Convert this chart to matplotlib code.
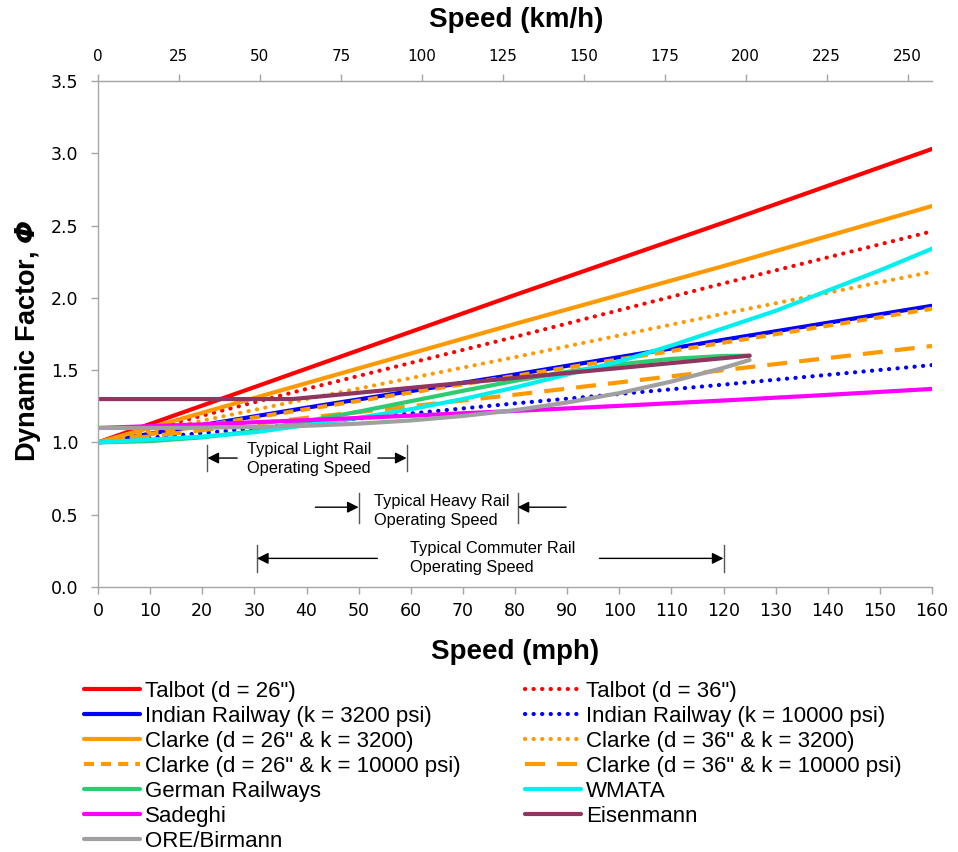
import matplotlib
matplotlib.use("Agg")
import matplotlib.pyplot as plt

# ---------------- data ----------------
lin_speed = [0, 40, 80, 120, 160]                       # mph
talbot_26 = [1.00, 1.51, 2.02, 2.52, 3.03]
talbot_36 = [1.00, 1.37, 1.73, 2.10, 2.46]
indian_3200 = [1.00, 1.24, 1.47, 1.71, 1.945]
indian_10000 = [1.00, 1.13, 1.27, 1.40, 1.535]
clarke_26_3200 = [1.00, 1.41, 1.82, 2.22, 2.635]
clarke_36_3200 = [1.00, 1.30, 1.59, 1.89, 2.18]
clarke_26_10000 = [1.00, 1.23, 1.46, 1.69, 1.925]
clarke_36_10000 = [1.00, 1.17, 1.33, 1.50, 1.667]

wmata_speed = [0, 10, 20, 30, 40, 50, 60, 70, 80, 90, 100, 110, 120, 130, 140, 150, 160]
wmata = [1.00, 1.02, 1.04, 1.07, 1.12, 1.17, 1.23, 1.30, 1.38, 1.47, 1.56, 1.67, 1.79, 1.91, 2.05, 2.19, 2.34]

sadeghi_speed = [0, 20, 40, 60, 80, 100, 120, 140, 160]
sadeghi = [1.10, 1.125, 1.154, 1.185, 1.218, 1.253, 1.290, 1.329, 1.37]

short_speed = [0, 10, 20, 30, 40, 50, 60, 70, 80, 90, 100, 110, 120, 125]
german = [1.00, 1.009, 1.035, 1.078, 1.147, 1.213, 1.285, 1.357, 1.426, 1.488, 1.540, 1.578, 1.598, 1.60]
ore_birmann = [1.10, 1.100, 1.102, 1.107, 1.115, 1.130, 1.152, 1.183, 1.223, 1.276, 1.341, 1.421, 1.516, 1.57]

eisenmann_speed = [0, 37.3, 125]
eisenmann = [1.30, 1.30, 1.60]

light_rail_range = [21, 59.2]
heavy_rail_range = [50, 80.5]
commuter_rail_range = [30.5, 120]

x_ticks_mph = list(range(0, 161, 10))
x_ticks_kmh = list(range(0, 251, 25))
y_ticks = [0.0, 0.5, 1.0, 1.5, 2.0, 2.5, 3.0, 3.5]

# ---------------- figure ----------------
W, H = 958, 852
fig = plt.figure(figsize=(W / 100, H / 100), dpi=100)
L, R, T, B = 98, 932, 81, 587
ax = fig.add_axes([L / W, 1 - B / H, (R - L) / W, (B - T) / H])

RED = '#FF0000'
BLUE = '#0000FF'
ORANGE = '#FF9900'
GREEN = '#2ECC71'
CYAN = '#00F0F0'
MAGENTA = '#FF00FF'
PURPLE = '#8E3560'
GRAY = '#A0A0A0'

LW = 3.0
dot = (0, (0.05, 2.0))
dash_short = (0, (2.4, 1.7))
dash_long = (0, (4.8, 2.9))

series = [
    (lin_speed, talbot_26, RED, '-', 'Talbot (d = 26")'),
    (lin_speed, talbot_36, RED, dot, 'Talbot (d = 36")'),
    (lin_speed, indian_3200, BLUE, '-', 'Indian Railway (k = 3200 psi)'),
    (lin_speed, indian_10000, BLUE, dot, 'Indian Railway (k = 10000 psi)'),
    (lin_speed, clarke_26_3200, ORANGE, '-', 'Clarke (d = 26" & k = 3200)'),
    (lin_speed, clarke_36_3200, ORANGE, dot, 'Clarke (d = 36" & k = 3200)'),
    (lin_speed, clarke_26_10000, ORANGE, dash_short, 'Clarke (d = 26" & k = 10000 psi)'),
    (lin_speed, clarke_36_10000, ORANGE, dash_long, 'Clarke (d = 36" & k = 10000 psi)'),
    (short_speed, german, GREEN, '-', 'German Railways'),
    (wmata_speed, wmata, CYAN, '-', 'WMATA'),
    (sadeghi_speed, sadeghi, MAGENTA, '-', 'Sadeghi'),
    (eisenmann_speed, eisenmann, PURPLE, '-', 'Eisenmann'),
    (short_speed, ore_birmann, GRAY, '-', 'ORE/Birmann'),
]

handles = {}
for xs, ys, c, ls, lab in series:
    cap = 'round' if ls is dot else 'butt'
    ln, = ax.plot(xs, ys, color=c, lw=LW, linestyle=ls, label=lab,
                  dash_capstyle=cap, solid_capstyle='round')
    handles[lab] = ln

ax.set_xlim(0, 160)
ax.set_ylim(0, 3.5)
ax.set_xticks(x_ticks_mph)
ax.set_yticks(y_ticks)
ax.set_yticklabels([f"{v:.1f}" for v in y_ticks])

spine_c = '#A6A6A6'
for s in ['left', 'bottom', 'top']:
    ax.spines[s].set_color(spine_c)
    ax.spines[s].set_linewidth(1.0)
ax.spines['right'].set_visible(False)

ax.tick_params(axis='x', direction='out', length=5, width=1, color=spine_c,
               labelsize=12.5, pad=6, top=False)
ax.tick_params(axis='y', direction='out', length=5, width=1, color=spine_c,
               labelsize=12.5, pad=9, right=False)
for t in ax.get_xticklabels() + ax.get_yticklabels():
    t.set_fontfamily('DejaVu Sans')

secax = ax.secondary_xaxis('top', functions=(lambda v: v * 1.609344, lambda v: v / 1.609344))
secax.set_xticks(x_ticks_kmh)
secax.spines['top'].set_color(spine_c)
secax.tick_params(axis='x', direction='out', length=5, width=1, color=spine_c,
                  labelsize=11, pad=7)

label_font = dict(fontfamily='Liberation Sans', fontweight='bold')
ax.set_xlabel('Speed (mph)', fontsize=20, va='center', **label_font)
ax.xaxis.set_label_coords(0.5, (B - 652) / (B - T))
fig.text(516 / W, 1 - 20 / H, 'Speed (km/h)', fontsize=20, ha='center', va='center', **label_font)
ax.set_ylabel(r'Dynamic Factor, $\mathbfit{\Phi}$', fontsize=19.5, va='center', **label_font)
ax.yaxis.set_label_coords((28 - L) / (R - L), 0.486)

# ---------------- operating speed annotations ----------------
ann_font = dict(fontfamily='Liberation Sans', fontsize=11.8, linespacing=1.37)
bar_kw = dict(color='#555555', lw=1.0)
arr_kw = dict(arrowstyle='-|>', color='black', lw=1.0, mutation_scale=17,
              shrinkA=0, shrinkB=0)


def bracket(rng, bar_y, arrow_y, left_tail, right_tail, text, text_x, text_y):
    for xb in rng:
        ax.plot([xb, xb], bar_y, **bar_kw)
    ax.annotate('', xy=(rng[0], arrow_y), xytext=(left_tail, arrow_y), arrowprops=arr_kw)
    ax.annotate('', xy=(rng[1], arrow_y), xytext=(right_tail, arrow_y), arrowprops=arr_kw)
    ax.text(text_x, text_y, text, ha='left', va='center', **ann_font)


bracket(light_rail_range, [0.80, 0.982], 0.892, 26.7, 53.7,
        'Typical Light Rail\nOperating Speed', 28.5, 0.884)
bracket(heavy_rail_range, [0.44, 0.65], 0.552, 41.7, 89.8,
        'Typical Heavy Rail\nOperating Speed', 52.9, 0.525)
bracket(commuter_rail_range, [0.106, 0.29], 0.198, 53.6, 96.2,
        'Typical Commuter Rail\nOperating Speed', 59.8, 0.201)

# ---------------- legend ----------------
left_labels = ['Talbot (d = 26")', 'Indian Railway (k = 3200 psi)', 'Clarke (d = 26" & k = 3200)',
               'Clarke (d = 26" & k = 10000 psi)', 'German Railways', 'Sadeghi', 'ORE/Birmann']
right_labels = ['Talbot (d = 36")', 'Indian Railway (k = 10000 psi)', 'Clarke (d = 36" & k = 3200)',
                'Clarke (d = 36" & k = 10000 psi)', 'WMATA', 'Eisenmann']

leg_kw = dict(loc='upper left', frameon=False, borderpad=0, borderaxespad=0,
              handlelength=2.5, handletextpad=0.25, labelspacing=0.18,
              prop={'family': 'Liberation Sans', 'size': 16})
fig.legend([handles[l] for l in left_labels], left_labels,
           bbox_to_anchor=(84 / W, 1 - 681 / H), **leg_kw)
fig.legend([handles[l] for l in right_labels], right_labels,
           bbox_to_anchor=(525 / W, 1 - 681 / H), **leg_kw)

fig.savefig('out.png', dpi=100)
